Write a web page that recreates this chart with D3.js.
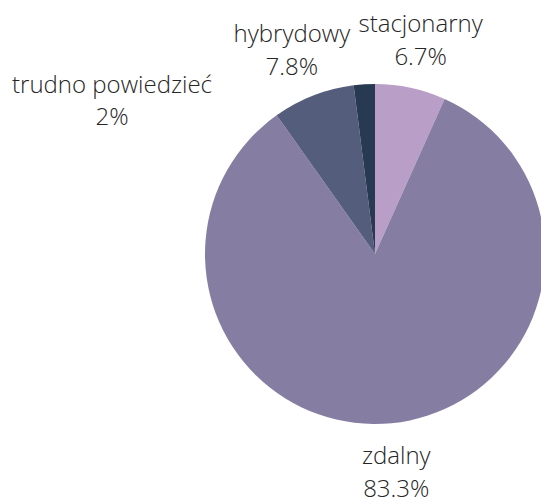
<!DOCTYPE html>
<html>
<head>
<meta charset="utf-8">
<script src="https://cdn.jsdelivr.net/npm/d3@7"></script>
<style>
  html, body { margin: 0; padding: 0; background: #fff; }
  svg text { font-family: "Open Sans", sans-serif; font-weight: 300; fill: #262626; }
</style>
</head>
<body>
<div id="chart"></div>
<script>
// data
var categories = ["stacjonarny", "zdalny", "hybrydowy", "trudno powiedzieć"];
var values = [6.7, 83.3, 7.8, 2];
var valueLabels = ["6.7%", "83.3%", "7.8%", "2%"];
var colors = ["#b99fc7", "#867ea2", "#545d7c", "#283a52"];

// layout
var width = 541, height = 501;
var cx = 375, cy = 254, radius = 170;
var labelRadius = 218;
// labels the chart moved away from their slice (dx, dy from pie centre)
var movedLabels = { "trudno powiedzieć": [-263, -153], "zdalny": [0, 2], "hybrydowy": [-4, 0] };

var svg = d3.select('#chart').append('svg')
  .attr('width', width)
  .attr('height', height);

var g = svg.append('g')
  .attr('transform', 'translate(' + cx + ',' + cy + ')');

var pie = d3.pie().sort(null).value(function(d) { return d.value; });
var arc = d3.arc().innerRadius(0).outerRadius(radius);

var rows = categories.map(function(c, i) {
  return { name: c, value: values[i], label: valueLabels[i], color: colors[i] };
});
var arcs = pie(rows);

g.selectAll('path.slice')
  .data(arcs)
  .enter().append('path')
  .attr('class', 'slice')
  .attr('d', arc)
  .attr('fill', function(d) { return d.data.color; });

// labels outside the pie
var labels = g.selectAll('text.lbl')
  .data(arcs)
  .enter().append('text')
  .attr('class', 'lbl')
  .attr('text-anchor', 'middle')
  .style('font-size', '24px')
  .attr('transform', function(d) {
    var mid = (d.startAngle + d.endAngle) / 2;
    var x = Math.sin(mid) * labelRadius, y = -Math.cos(mid) * labelRadius;
    var m = movedLabels[d.data.name];
    if (m && d.data.name == "trudno powiedzieć") { x = m[0]; y = m[1]; }
    else if (m) { x += m[0]; y += m[1]; }
    return 'translate(' + x + ',' + y + ')';
  });

labels.append('tspan')
  .attr('x', 0).attr('y', -8.5)
  .text(function(d) { return d.data.name; });
labels.append('tspan')
  .attr('x', 0).attr('y', 24)
  .text(function(d) { return d.data.label; });
</script>
</body>
</html>
